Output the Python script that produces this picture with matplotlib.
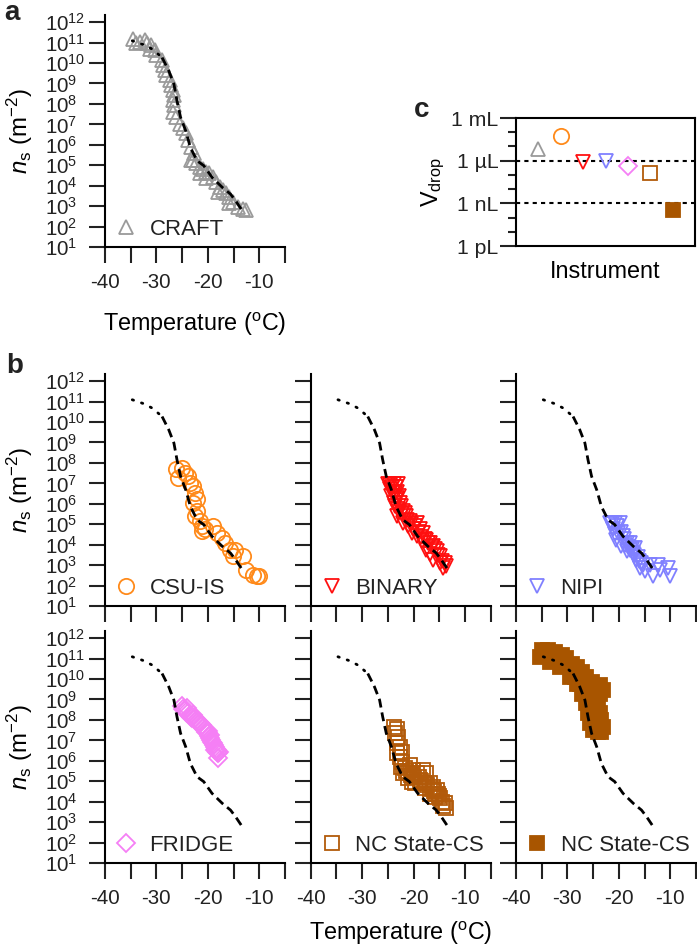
import numpy as np
import matplotlib.pyplot as plt
from matplotlib.ticker import NullLocator

plt.rcParams['font.family'] = ['Liberation Sans', 'DejaVu Sans']
plt.rcParams['mathtext.fontset'] = 'custom'
plt.rcParams['mathtext.rm'] = 'Liberation Sans'
plt.rcParams['mathtext.it'] = 'Liberation Sans:italic'
plt.rcParams['axes.unicode_minus'] = False
plt.rcParams['text.color'] = '#222222'
plt.rcParams['xtick.color'] = '#222222'
plt.rcParams['ytick.color'] = '#222222'

# ---- data (temperature in degC, log10 of n_s in m^-2) ----
# CRAFT fit line (dotted part = first 4 points)
fit_T = [-34.7, -32.5, -30.8, -28.9, -27.6, -26.6, -26.0, -25.3, -24.3, -23.4,
         -22.1, -20.8, -19.2, -17.2, -15.6, -14.6, -13.4]
fit_log = [11.09, 10.9, 10.68, 10.27, 9.62, 8.97, 8.15, 7.34, 6.68, 5.87,
           5.22, 4.98, 4.41, 3.92, 3.59, 3.26, 2.81]
n_dotted = 4

craft_T = [-34.5, -33.9, -33.2, -32.3, -31.9, -31.3, -31.0, -30.3, -30.0, -29.0,
           -28.7, -28.4, -28.1, -27.4, -27.1, -26.8, -26.5, -26.8, -26.5, -26.8,
           -26.1, -25.5, -24.8, -24.2, -23.9, -23.2, -22.6, -23.2, -22.9, -22.3,
           -21.6, -21.6, -21.0, -20.3, -20.3, -19.7, -19.0, -18.4, -18.1, -17.7,
           -17.1, -16.5, -15.8, -15.8, -15.2, -14.2, -13.2, -12.6]
craft_log = [11.2, 10.96, 11.04, 11.12, 10.96, 10.71, 10.88, 10.63, 10.39, 10.14,
             9.9, 9.65, 9.41, 9.16, 8.92, 8.67, 8.43, 8.19, 7.94, 7.62,
             7.37, 7.04, 6.8, 6.56, 6.23, 5.9, 5.58, 5.25, 5.25, 5.09,
             4.93, 4.6, 4.84, 4.68, 4.36, 4.6, 4.44, 4.19, 3.7, 3.95,
             3.78, 3.62, 3.46, 3.13, 3.21, 2.97, 2.84, 2.8]

csu_T = [-26.1, -25.1, -25.8, -24.5, -23.8, -23.5, -22.8, -22.5, -22.2, -22.8,
         -22.2, -22.5, -21.6, -21.2, -21.2, -20.6, -19.0, -18.3, -17.3, -16.7,
         -15.7, -15.1, -14.8, -13.1, -12.5, -11.2, -10.5, -10.1]
csu_log = [7.69, 7.77, 7.28, 7.52, 7.36, 7.03, 6.87, 6.54, 6.22, 6.05,
           5.64, 5.4, 5.15, 4.91, 4.66, 4.75, 4.91, 4.58, 4.34, 4.09,
           3.76, 3.44, 3.76, 3.44, 2.78, 2.54, 2.49, 2.49]

binary_T = [-24.9, -23.9, -23.0, -24.6, -23.6, -23.3, -22.7, -23.9, -23.0, -22.0,
            -23.3, -21.4, -20.7, -22.0, -19.4, -20.1, -18.8, -18.1, -19.4, -17.5,
            -16.8, -16.2, -15.5, -14.9, -16.2, -14.9, -14.2, -13.9, -24.3, -23.6,
            -22.3, -21.0, -20.4, -18.4, -17.5, -16.8,
            -24.5, -24.2, -23.5, -24.0, -23.2, -22.9, -23.5, -22.5, -22.8, -21.7,
            -21.2, -20.5, -19.8, -19.0, -18.5, -17.8, -17.2, -16.5, -15.8, -15.2,
            -14.5, -13.6]
binary_log = [6.95, 6.95, 6.95, 6.71, 6.54, 6.3, 6.05, 6.05, 5.73, 5.64,
              5.4, 5.4, 5.15, 5.07, 5.07, 4.75, 4.75, 4.58, 4.42, 4.25,
              4.09, 3.93, 3.68, 3.44, 3.27, 3.11, 2.87, 3.11, 6.38, 5.89,
              5.48, 4.91, 4.58, 4.17, 3.76, 3.52,
              6.9, 6.8, 6.8, 6.6, 6.6, 6.4, 6.2, 5.9, 5.6, 5.55,
              5.2, 5.0, 4.9, 4.6, 4.4, 4.3, 4.1, 3.9, 3.8, 3.5,
              3.2, 2.95]

nipi_T = [-21.7, -20.8, -19.8, -21.1, -20.1, -19.2, -20.5, -18.5, -19.5, -17.9,
          -17.2, -18.5, -16.6, -15.6, -15.9, -15.0, -14.0, -13.3, -12.4, -12.0,
          -10.4, -10.1, -17.9, -16.9,
          -21.3, -20.3, -20.8, -19.6, -19.0, -18.8, -18.2, -17.5, -17.0, -16.3,
          -16.0, -15.3]
nipi_log = [5.07, 5.07, 5.07, 4.75, 4.58, 4.42, 4.25, 4.09, 3.93, 3.76,
            3.6, 3.68, 3.27, 3.11, 2.87, 2.7, 3.03, 2.46, 3.03, 2.78,
            2.87, 2.46, 4.09, 3.85,
            5.0, 4.9, 4.5, 4.6, 4.3, 4.0, 3.9, 3.8, 3.5, 3.4,
            3.2, 3.0]

fridge_T = [-25.1, -24.5, -24.1, -23.8, -23.2, -22.8, -22.5, -21.9, -21.6, -21.2,
            -20.6, -20.3, -19.9, -19.6, -19.3, -19.0, -18.6, -18.6, -18.3, -18.0,
            -17.9, -18.1,
            -24.8, -24.3, -23.5, -23.0, -22.2, -21.8, -21.4, -20.9, -20.5, -20.0,
            -19.8, -19.5, -19.2, -18.9, -18.4, -18.2]
fridge_log = [8.67, 8.48, 8.56, 8.32, 8.15, 8.23, 8.07, 7.91, 7.83, 7.75,
              7.58, 7.42, 7.34, 7.26, 7.01, 6.85, 6.69, 6.52, 6.52, 6.36,
              6.44, 6.16,
              8.55, 8.4, 8.25, 8.1, 8.0, 7.85, 7.7, 7.62, 7.5, 7.45,
              7.2, 7.1, 6.9, 6.75, 6.6, 6.45]

ncs_cs_T = [-23.9, -23.3, -23.6, -23.0, -23.3, -22.7, -22.3, -23.3, -22.7, -22.3,
            -21.7, -20.7, -20.1, -19.4, -18.1, -22.0, -21.0, -20.4, -19.7,
            -18.8, -17.8, -16.8, -16.8, -16.2, -15.9, -15.5, -15.2, -14.9, -13.9,
            -22.5, -21.5, -21.0, -20.5, -19.9, -19.0, -18.5, -18.0, -17.3, -16.5,
            -16.0, -15.7, -15.0, -14.5, -14.2, -17.5, -13.6]
ncs_cs_log = [7.66, 7.58, 7.34, 7.18, 6.85, 6.69, 6.44, 6.36, 6.2, 5.95,
              5.63, 5.79, 5.55, 5.38, 5.55, 5.38, 5.14, 4.97, 4.89,
              5.06, 4.65, 4.89, 4.4, 4.73, 4.24, 4.57, 4.4, 4.16, 3.92,
              5.7, 5.5, 5.4, 5.3, 5.2, 5.2, 5.0, 4.9, 4.8, 4.6,
              4.5, 4.4, 4.3, 4.0, 3.8, 5.38, 3.67]

ncs_cs2_T = [-35.3, -35.0, -34.0, -33.7, -33.4, -32.8, -32.4, -31.5, -31.5, -31.1,
             -30.2, -29.5, -29.2, -28.5, -28.2, -28.2, -27.6, -27.2, -27.2, -26.3,
             -26.3, -26.0, -25.6, -25.6, -25.3, -25.3, -25.0, -24.7, -24.7, -24.3,
             -24.3, -24.0, -24.0, -23.7, -23.7, -23.7, -23.4, -23.4, -23.0, -23.0]
ncs_cs2_log = [11.09, 11.41, 11.17, 11.41, 10.84, 11.09, 11.33, 10.6, 10.92, 11.17,
               11.01, 10.11, 10.76, 10.11, 10.6, 9.78, 9.78, 10.35, 9.29, 10.11,
               8.81, 8.32, 7.83, 9.29, 9.86, 8.81, 7.5, 9.62, 8.15, 9.29,
               8.64, 8.97, 7.42, 9.29, 8.32, 9.7, 7.99, 7.42, 7.66, 9.46]

# panel c: droplet volume (log10 of litres)
instruments = ['CRAFT', 'CSU-IS', 'BINARY', 'NIPI', 'FRIDGE', 'NC State-CS', 'NC State-CS']
vdrop_log = [-5.2, -4.27, -6.07, -6.05, -6.38, -6.9, -9.5]

markers = ['^', 'o', 'v', 'v', 'D', 's', 's']
colors = ['#9a9a9a', '#ff8a1a', '#ff1010', '#8080ff', '#f57ff5', '#b25a0a', '#a85500']
filled = [False, False, False, False, False, False, True]
msizes = [10.5, 11, 10.5, 10.5, 9, 10, 10]

TICK_FS = 14.8
LABEL_FS = 16.8

# ---- figure ----
W, H = 697, 950
fig = plt.figure(figsize=(W / 100, H / 100), dpi=100)


def rect(left, top, w, h):
    return [left / W, 1 - (top + h) / H, w / W, h / H]


def ns_panel(ax, T, logns, i, show_y=True, show_x=True):
    kw = dict(ls='none', marker=markers[i], ms=msizes[i], mew=1.3, mec=colors[i],
              mfc=colors[i] if filled[i] else 'none', label=instruments[i])
    ax.plot(T, np.power(10.0, logns), zorder=2, **kw)
    fT, fl = np.array(fit_T), np.power(10.0, fit_log)
    ax.plot(fT[:n_dotted], fl[:n_dotted], color='k', lw=2.0, ls=(0, (0.5, 3.0)),
            dash_capstyle='round', zorder=3)
    ax.plot(fT[n_dotted - 1:], fl[n_dotted - 1:], color='k', lw=2.0, ls=(0, (3.2, 1.8)),
            zorder=3)

    ax.set_yscale('log')
    ax.set_xlim(-40, -5)
    ax.set_ylim(10, 10 ** 12.35)
    ax.set_yticks([10.0 ** k for k in range(1, 13)])
    ax.yaxis.set_minor_locator(NullLocator())
    xt = np.arange(-40, -4, 5)
    ax.set_xticks(xt)
    ax.set_xticklabels([str(v) if v % 10 == 0 else '' for v in xt])
    for s in ['top', 'right']:
        ax.spines[s].set_visible(False)
    for s in ['left', 'bottom']:
        ax.spines[s].set_linewidth(1.5)
    ax.tick_params(axis='both', direction='out', length=11.5, width=1.5, labelsize=TICK_FS)
    ax.tick_params(axis='x', pad=7, labelbottom=show_x)
    ax.tick_params(axis='y', pad=32, labelleft=show_y)
    for t in ax.get_yticklabels():
        t.set_horizontalalignment('left')
    if show_y:
        ax.set_ylabel(r'$n_\mathrm{s}$ (m$^{-2}$)', fontsize=LABEL_FS + 0.5, labelpad=7)
    ax.legend(loc='lower left', bbox_to_anchor=(0.05, 0.03), frameon=False,
              handlelength=1.1, handletextpad=0.5, borderpad=0, borderaxespad=0,
              fontsize=16)


# panel a
ax_a = fig.add_axes(rect(105, 15, 180, 232))
ns_panel(ax_a, craft_T, craft_log, 0)
ax_a.set_xlabel('Temperature ($\\mathregular{^o}$C)', fontsize=LABEL_FS, labelpad=14)

# panel b
cols = [105, 310.7, 516]
tops = [374, 631]
b_sets = [(csu_T, csu_log, 1), (binary_T, binary_log, 2), (nipi_T, nipi_log, 3),
          (fridge_T, fridge_log, 4), (ncs_cs_T, ncs_cs_log, 5), (ncs_cs2_T, ncs_cs2_log, 6)]
b_axes = []
for k, (T, lg, i) in enumerate(b_sets):
    r, c = divmod(k, 3)
    ax = fig.add_axes(rect(cols[c], tops[r], 180, 232))
    ns_panel(ax, T, lg, i, show_y=(c == 0), show_x=(r == 1))
    b_axes.append(ax)
b_axes[4].set_xlabel('Temperature ($\\mathregular{^o}$C)', fontsize=LABEL_FS, labelpad=9)

# panel c
ax_c = fig.add_axes(rect(516, 118, 179, 128))
xpos = np.arange(1, len(instruments) + 1)
for i in range(len(instruments)):
    ax_c.plot(xpos[i], 10.0 ** vdrop_log[i], ls='none', marker=markers[i], ms=msizes[i],
              mew=1.3, mec=colors[i], mfc=colors[i] if filled[i] else 'none')
ax_c.axhline(1e-6, color='k', lw=1.5, ls=(0, (2, 2)), zorder=0)
ax_c.axhline(1e-9, color='k', lw=1.5, ls=(0, (2, 2)), zorder=0)
ax_c.set_yscale('log')
ax_c.set_ylim(1e-12, 1e-3)
ax_c.set_xlim(0, 8)
ax_c.set_xticks([])
ax_c.set_yticks([1e-3, 1e-6, 1e-9, 1e-12], ['1 mL', '1 µL', '1 nL', '1 pL'])
ax_c.set_yticks([1e-4, 1e-5, 1e-7, 1e-8, 1e-10, 1e-11], minor=True)
ax_c.yaxis.set_minor_formatter(plt.NullFormatter())
ax_c.tick_params(axis='y', which='major', direction='out', length=11.5, width=1.5,
                 labelsize=TICK_FS + 0.5, pad=1)
ax_c.tick_params(axis='y', which='minor', direction='out', length=6, width=1.5)
for s in ax_c.spines.values():
    s.set_linewidth(1.5)
ax_c.set_ylabel(r'V$_\mathrm{drop}$', fontsize=LABEL_FS, labelpad=3)
ax_c.set_xlabel('Instrument', fontsize=LABEL_FS, labelpad=10)

# panel letters
fig.text(12 / W, 1 - 13 / H, 'a', fontsize=20, weight='bold', ha='center', va='center', color='#222222')
fig.text(15 / W, 1 - 366 / H, 'b', fontsize=20, weight='bold', ha='center', va='center', color='#222222')
fig.text(422 / W, 1 - 110 / H, 'c', fontsize=20, weight='bold', ha='center', va='center', color='#222222')

fig.savefig('out.png', dpi=100)
